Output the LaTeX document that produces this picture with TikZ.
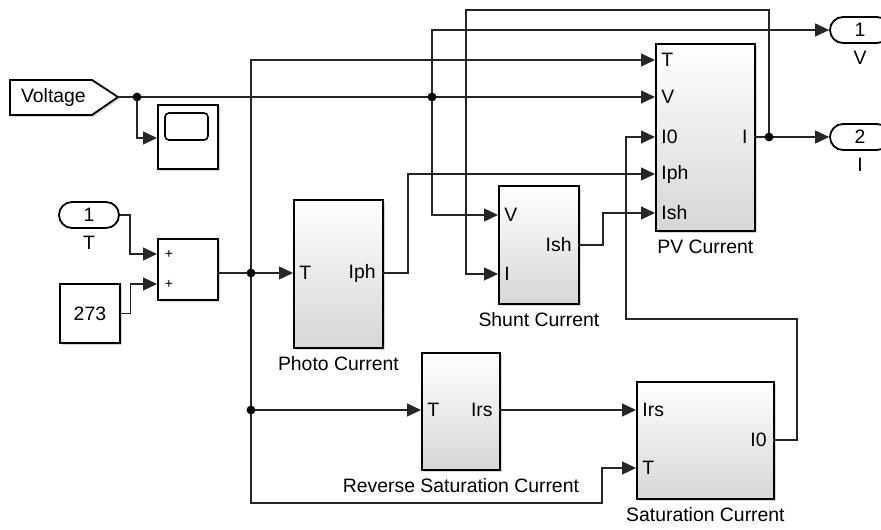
\documentclass[tikz,border=0pt]{standalone}
\usepackage{fontspec}
\setmainfont{Liberation Sans}
\usetikzlibrary{arrows.meta,shadows}

\begin{document}
\begin{tikzpicture}[x=0.5pt,y=-0.5pt,font=\fontsize{9.7}{11}\selectfont,
  wire/.style={line width=0.6pt,draw=black!85},
  sig/.style={wire,-{Triangle[length=7pt,width=6.5pt]}},
  blk/.style={draw,line width=0.9pt,fill=white,anchor=north west,inner sep=0pt,
    drop shadow={shadow xshift=1pt,shadow yshift=-1pt,opacity=0.3}},
  sub/.style={blk,top color=white,bottom color=black!16,label={[label distance=0.5pt]below:#1}},
  port/.style={draw,line width=0.9pt,fill=white,rounded corners=6.5pt,
    minimum width=30pt,minimum height=13pt,inner sep=0pt},
  pin/.style={anchor=west,inner sep=3pt},
  pout/.style={anchor=east,inner sep=3pt}]
\useasboundingbox (0,0) rectangle (881,529);
\clip (0,0) rectangle (881,529);

% sources
\draw[line width=0.9pt,fill=white,drop shadow={shadow xshift=1pt,shadow yshift=-1pt,opacity=0.3}]
  (10,80) -- (92,80) -- (118,97) -- (92,115) -- (10,115) -- cycle;
\node[anchor=west] (volt) at (14,97) {Voltage};
\coordinate (vtip) at (118,97);
\node[port,label=below:T] (tin) at (89,215) {1};
\node[blk,minimum width=30pt,minimum height=29.5pt] (const) at (59,283) {273};

% scope and sum
\node[blk,minimum width=30pt,minimum height=32pt] (scope) at (157,104) {};
\draw[line width=0.8pt,rounded corners=2pt] (165,113) rectangle (208,140);
\coordinate (scopeIn) at (157,138);
\node[blk,minimum width=30pt,minimum height=30.5pt] (sum) at (157,238) {};
\node[font=\fontsize{7}{8}\selectfont] (plusA) at (169,254) {+};
\node[font=\fontsize{7}{8}\selectfont] (plusB) at (169,284) {+};
\coordinate (sumA) at (157,254);
\coordinate (sumB) at (157,284);
\coordinate (sumOut) at (217,273);

% subsystems
\node[sub=Photo Current,minimum width=44.5pt,minimum height=74pt] (photo) at (293,199) {};
\coordinate (photoT) at (293,273);
\coordinate (photoIph) at (382,273);
\node[pin] (photoTl) at (photoT) {T};
\node[pout] (photoIphl) at (photoIph) {Iph};

\node[sub=Shunt Current,minimum width=40pt,minimum height=59pt] (shunt) at (498,185) {};
\coordinate (shuntV) at (498,215);
\coordinate (shuntI) at (498,274);
\coordinate (shuntIsh) at (578,245);
\node[pin] (shuntVl) at (shuntV) {V};
\node[pin] (shuntIl) at (shuntI) {I};
\node[pout] (shuntIshl) at (shuntIsh) {Ish};

\node[sub=PV Current,minimum width=49.5pt,minimum height=93.5pt] (pv) at (655,43) {};
\coordinate (pvT) at (655,60);
\coordinate (pvV) at (655,97);
\coordinate (pvI0) at (655,137);
\coordinate (pvIph) at (655,174);
\coordinate (pvIsh) at (655,213);
\coordinate (pvI) at (754,137);
\node[pin] (pvTl) at (pvT) {T};
\node[pin] (pvVl) at (pvV) {V};
\node[pin] (pvI0l) at (pvI0) {I0};
\node[pin] (pvIphl) at (pvIph) {Iph};
\node[pin] (pvIshl) at (pvIsh) {Ish};
\node[pout] (pvIl) at (pvI) {I};

\node[sub=Reverse Saturation Current,minimum width=39pt,minimum height=58.5pt] (rev) at (421,352) {};
\coordinate (revT) at (421,410);
\coordinate (revIrs) at (499,410);
\node[pin] (revTl) at (revT) {T};
\node[pout] (revIrsl) at (revIrs) {Irs};

\node[sub=Saturation Current,minimum width=68.5pt,minimum height=58.5pt] (sat) at (636,381) {};
\coordinate (satIrs) at (636,410);
\coordinate (satT) at (636,468);
\coordinate (satI0) at (773,440);
\node[pin] (satIrsl) at (satIrs) {Irs};
\node[pin] (satTl) at (satT) {T};
\node[pout] (satI0l) at (satI0) {I0};

% outputs
\node[port,label=below:V] (vout) at (860,30) {1};
\node[port,label=below:I] (iout) at (860,137) {2};

% junctions
\coordinate (j1) at (137,97);
\coordinate (j2) at (432,97);
\coordinate (j3) at (251,273);
\coordinate (j4) at (251,410);
\coordinate (j5) at (769,137);

% signals
\draw[sig] (vtip) -- (pvV);
\draw[sig] (j1) |- (scopeIn);
\draw[sig] (j2) |- (vout.west);
\draw[sig] (j2) |- (shuntV);
\draw[sig] (tin.east) -- ++(10,0) |- (sumA);
\draw[sig] (const.east) -- ++(10,0) |- (sumB);
\draw[sig] (sumOut) -- (photoT);
\draw[sig] (j3) |- (pvT);
\draw[wire] (j3) -- (j4);
\draw[sig] (j4) -- (revT);
\draw[sig] (j4) |- (602,503) |- (satT);
\draw[sig] (photoIph) -- ++(26,0) |- (pvIph);
\draw[sig] (shuntIsh) -- ++(25,0) |- (pvIsh);
\draw[sig] (pvI) -- (iout.west);
\draw[sig] (j5) |- (466,10) |- (shuntI);
\draw[sig] (satI0) -- ++(24,0) |- (626,319) |- (pvI0);
\draw[sig] (revIrs) -- (satIrs);
\foreach \j in {j1,j2,j3,j4,j5}
  \fill (\j) circle (2.2pt);
\end{tikzpicture}
\end{document}
